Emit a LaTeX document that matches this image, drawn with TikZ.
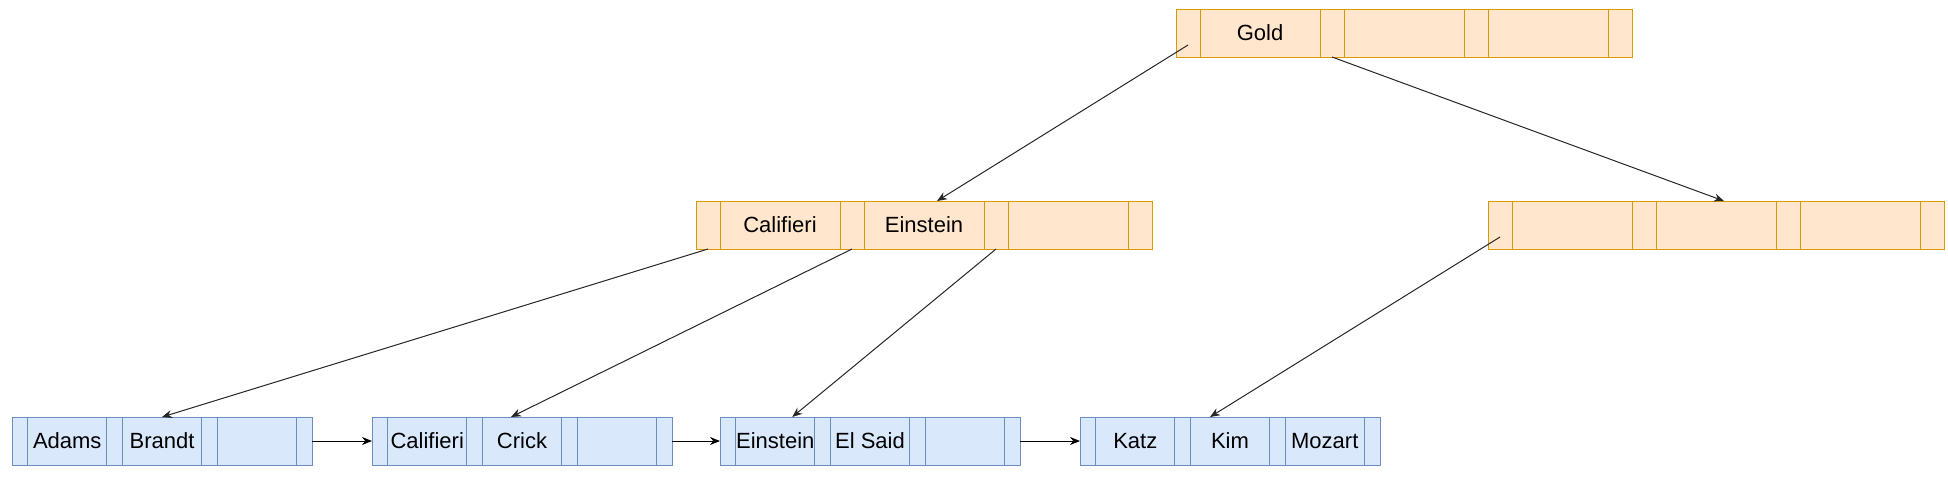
\documentclass[tikz,border=0pt]{standalone}
\usepackage{fontspec}
\setmainfont{Liberation Sans}
\usepackage{tikz}
\usetikzlibrary{positioning, arrows.meta, calc}

\definecolor{innerfill}{HTML}{FFE6CC}
\definecolor{innerline}{HTML}{D79B00}
\definecolor{leaffill}{HTML}{DAE8FC}
\definecolor{leafline}{HTML}{6C8EBF}

% one page of the tree: pointer and key cells side by side
% #1 name, #2 i/l (inner or leaf), #3 top left corner, #4-#6 keys
\newcommand{\bpage}[6]{%
  \node[#2ptr, anchor=north west] (#1-p0) at #3 {};
  \node[#2key, right=0pt of #1-p0] (#1-k1) {#4};
  \node[#2ptr, right=0pt of #1-k1] (#1-p1) {};
  \node[#2key, right=0pt of #1-p1] (#1-k2) {#5};
  \node[#2ptr, right=0pt of #1-k2] (#1-p2) {};
  \node[#2key, right=0pt of #1-p2] (#1-k3) {#6};
  \node[#2ptr, right=0pt of #1-k3] (#1-p3) {};
}

\begin{document}
\begin{tikzpicture}[x=0.5pt, y=-0.5pt, font=\fontsize{11}{13}\selectfont,
  >={Stealth[length=5pt, width=4pt]},
  iptr/.style={draw=innerline, fill=innerfill, line width=0.5pt,
    minimum width=12pt, minimum height=24pt, inner sep=0pt, outer sep=0pt},
  ikey/.style={iptr, minimum width=60pt},
  lptr/.style={draw=leafline, fill=leaffill, line width=0.5pt,
    minimum width=7.875pt, minimum height=24pt, inner sep=0pt, outer sep=0pt},
  lkey/.style={lptr, minimum width=39.5pt},
  link/.style={->, black!85, line width=0.5pt}]

  \useasboundingbox (0,0) rectangle (1948,478);

  % --- Root ---
  \bpage{root}{i}{(1176,9)}{Gold}{}{}

  % --- Inner level ---
  \bpage{midL}{i}{(696,201)}{Califieri}{Einstein}{}
  \bpage{midR}{i}{(1488,201)}{}{}{}

  % --- Leaves ---
  \bpage{leafA}{l}{(12,417)}{Adams}{Brandt}{}
  \bpage{leafB}{l}{(372,417)}{Califieri}{Crick}{}
  \bpage{leafC}{l}{(720,417)}{Einstein}{El Said}{}
  \bpage{leafD}{l}{(1080,417)}{Katz}{Kim}{Mozart}

  % --- Child pointers ---
  \draw[link] ($(root-p0.center)!0.5!(root-p0.south)$) -- ([xshift=6.5pt]midL-k2.north);
  \draw[link] (root-p1.south) -- ([xshift=4pt]midR-k2.north);
  \draw[link] (midL-p0.south) -- (leafA-k2.north);
  \draw[link] (midL-p1.south) -- ([xshift=-5.5pt]leafB-k2.north);
  \draw[link] (midL-p2.south) -- ([xshift=8.5pt]leafC-k1.north);
  \draw[link] ($(midR-p0.center)!0.5!(midR-p0.south)$) -- ([xshift=-10pt]leafD-k2.north);

  % --- Leaf chain ---
  \draw[->, black, line width=0.5pt] (leafA-p3.east) -- (leafB-p0.west);
  \draw[->, black, line width=0.5pt] (leafB-p3.east) -- (leafC-p0.west);
  \draw[->, black, line width=0.5pt] (leafC-p3.east) -- (leafD-p0.west);

\end{tikzpicture}
\end{document}
